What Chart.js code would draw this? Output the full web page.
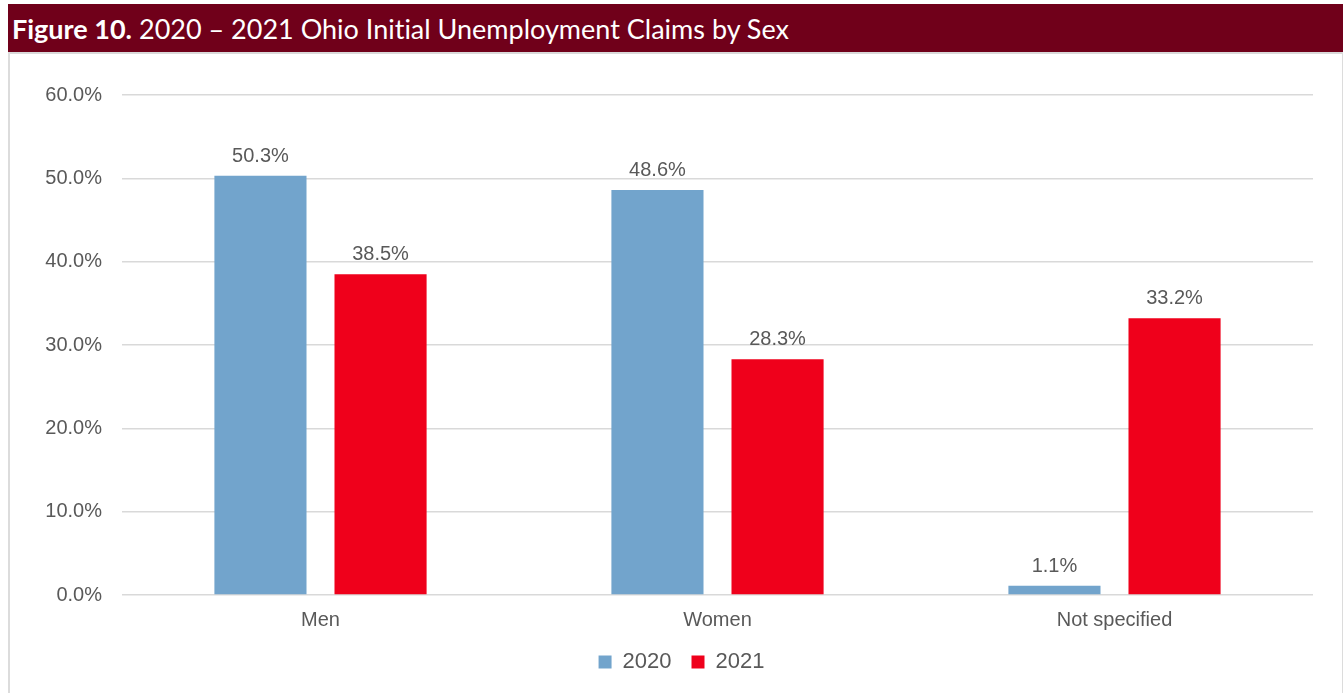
<!DOCTYPE html>
<html>
<head>
<meta charset="utf-8">
<title>Ohio Initial Unemployment Claims by Sex</title>
<script src="https://cdn.jsdelivr.net/npm/chart.js@4/dist/chart.umd.min.js"></script>
<style>
  html, body { margin: 0; padding: 0; background: #fff; }
  body { width: 1343px; height: 693px; position: relative; overflow: hidden; }
  .header {
    position: absolute; left: 8px; top: 4px; width: 1335px; height: 48px;
    background: #70001a; color: #fff;
    font-family: Lato, "Noto Sans", sans-serif; font-size: 27px;
    font-variant-ligatures: none;
    display: flex; align-items: center; padding-left: 4px; padding-top: 1px; box-sizing: border-box;
  }
  .header b { font-weight: 700; margin-right: 7px; }
  .rule { position: absolute; left: 8px; top: 52px; width: 1335px; height: 2px; background: #d9d9d9; }
  .side { position: absolute; top: 52px; width: 2px; height: 641px; background: #dcdcdc; }
  .chart-box { position: absolute; left: 10px; top: 54px; width: 1332px; height: 639px; }
</style>
</head>
<body>
<div class="header"><b>Figure 10.</b>2020 – 2021 Ohio Initial Unemployment Claims by Sex</div>
<div class="rule"></div>
<div class="side" style="left:8px"></div>
<div class="side" style="left:1342px;width:1px"></div>
<div class="chart-box"><canvas id="claimsChart"></canvas></div>

<script>
const categories = ['Men', 'Women', 'Not specified'];
const seriesNames = ['2020', '2021'];
const claims2020 = [50.3, 48.6, 1.1];
const claims2021 = [38.5, 28.3, 33.2];
const yMax = 60;
const yStep = 10;

const GREY_TEXT = '#595959';
const FONT = '"Liberation Sans", Arial, sans-serif';

// writes the percentage above every bar
const barValueLabels = {
  id: 'barValueLabels',
  afterDatasetsDraw(chart) {
    const ctx = chart.ctx;
    ctx.save();
    ctx.fillStyle = GREY_TEXT;
    ctx.font = '20px ' + FONT;
    ctx.textAlign = 'center';
    ctx.textBaseline = 'alphabetic';
    chart.data.datasets.forEach((ds, i) => {
      chart.getDatasetMeta(i).data.forEach((bar, j) => {
        ctx.fillText(ds.data[j].toFixed(1) + '%', bar.x, bar.y - 14);
      });
    });
    ctx.restore();
  }
};

// centre the legend under the plot area instead of the whole canvas
const legendShift = {
  id: 'legendShift',
  afterLayout(chart) {
    chart.legend.left += 40;
  }
};

const ctx = document.getElementById('claimsChart').getContext('2d');
new Chart(ctx, {
  type: 'bar',
  data: {
    labels: categories,
    datasets: [
      { label: seriesNames[0], data: claims2020, backgroundColor: '#72a4cc' },
      { label: seriesNames[1], data: claims2021, backgroundColor: '#ef001b' }
    ]
  },
  options: {
    responsive: true,
    maintainAspectRatio: false,
    animation: false,
    categoryPercentage: 0.605,
    barPercentage: 0.767,
    layout: { padding: { top: 41, right: 29, bottom: 10, left: 0 } },
    scales: {
      x: {
        grid: { display: false, drawTicks: false },
        border: { display: false },
        ticks: { color: GREY_TEXT, font: { family: FONT, size: 20 }, padding: 13 },
        afterFit(scale) { scale.height = 36; }
      },
      y: {
        min: 0,
        max: yMax,
        grid: { color: '#d9d9d9', lineWidth: 1.5, drawTicks: false },
        border: { display: false },
        ticks: {
          stepSize: yStep,
          color: GREY_TEXT,
          font: { family: FONT, size: 20 },
          padding: 20,
          callback: v => v.toFixed(1) + '%'
        },
        afterFit(scale) { scale.width = 112; }
      }
    },
    plugins: {
      legend: {
        position: 'bottom',
        labels: {
          color: GREY_TEXT,
          font: { family: FONT, size: 22 },
          boxWidth: 13,
          boxHeight: 13,
          padding: 20
        }
      },
      tooltip: { enabled: false }
    }
  },
  plugins: [barValueLabels, legendShift]
});
</script>
</body>
</html>
